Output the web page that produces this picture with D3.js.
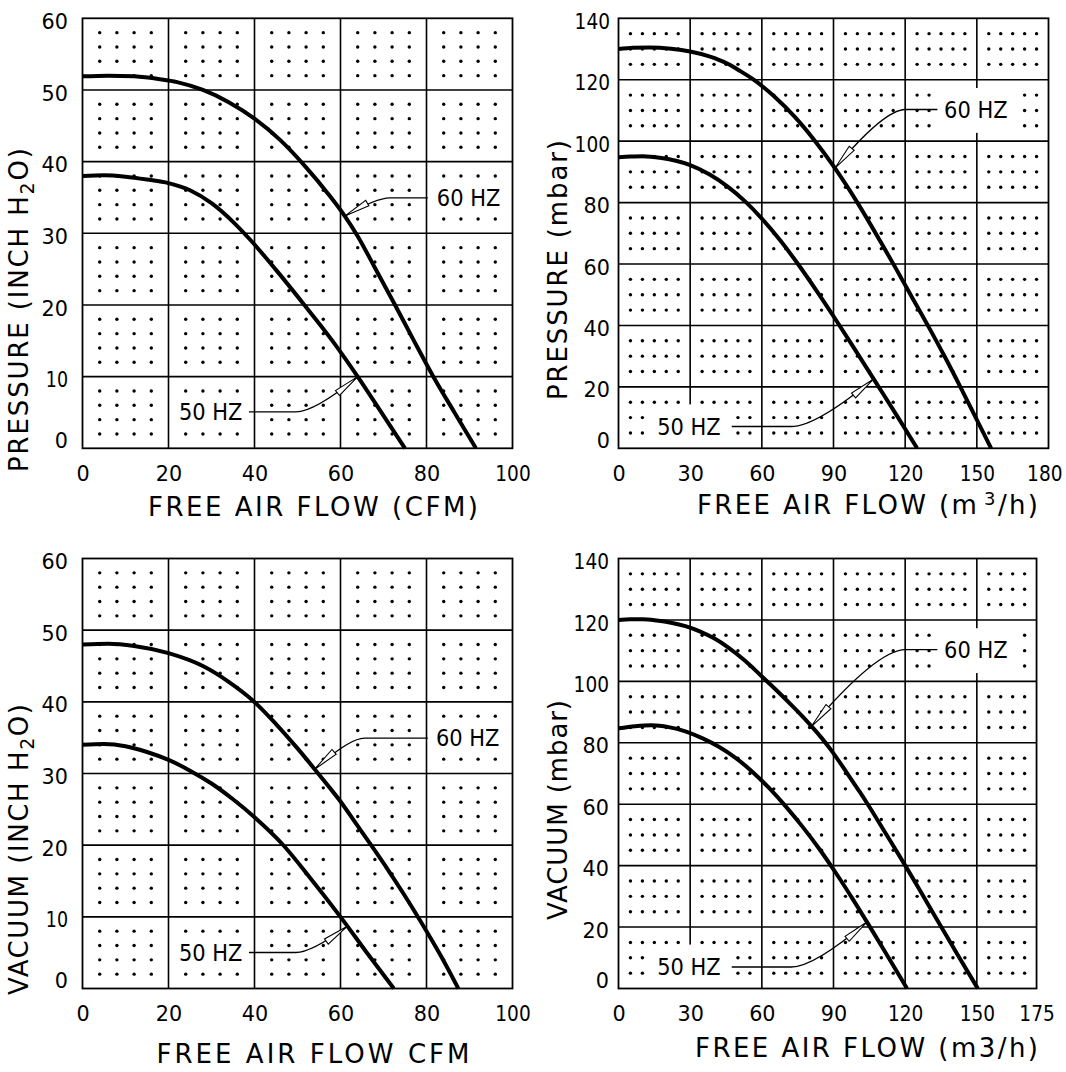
<!DOCTYPE html>
<html>
<head>
<meta charset="utf-8">
<script src="https://cdn.jsdelivr.net/npm/d3@7"></script>
<style>
  body { margin: 0; background: #fff; }
  svg { display: block; }
  text { font-family: "DejaVu Sans", sans-serif; fill: #000; }
</style>
</head>
<body>
<svg id="chart" width="1066" height="1072"></svg>
<script>
// ---- values ----
const cfmTicks = [0, 20, 40, 60, 80, 100];
const inchTicks = [0, 10, 20, 30, 40, 50, 60];
const m3hTicks = [0, 30, 60, 90, 120, 150, 180];
const m3hTicks175 = [0, 30, 60, 90, 120, 150, 175];
const mbarTicks = [0, 20, 40, 60, 80, 100, 120, 140];

// pressure, inch H2O vs CFM
const pressCfm60 = [[0,51.9],[6,52],[12,51.9],[18,51.5],[22,51.1],[28,50],[34,48.3],[40,46],[46,43],[52,39.2],[57,35.6],[61,32.4],[64,29.6],[68,25.2],[72.5,20.2],[77,15.1],[81.5,10.1],[86.5,5],[91.5,0]];
const pressCfm50 = [[0,38],[5,38.1],[10,37.9],[15,37.5],[20,37],[25,36],[30,34.2],[35,31.6],[39,29.1],[45,24.9],[51.6,20],[58,15.1],[64,10],[69.5,5],[75,0]];
// vacuum, inch H2O vs CFM
const vacCfm60 = [[0,48],[6,48.1],[12,47.8],[20,46.8],[28,45],[34,42.8],[39.6,40.2],[45,36.9],[50,33.5],[54,30.6],[57.5,28],[60,26.1],[63.5,23.1],[67,20.1],[71,16.6],[75,12.9],[79,9],[83.2,4.7],[87.4,0]];
const vacCfm50 = [[0,34],[5,34.1],[10,33.8],[15,33],[20,31.9],[25,30.4],[30,28.6],[35,26.4],[40,23.9],[46.4,20.2],[53,15.4],[60,10],[66,5.1],[72.4,0]];
// pressure, mbar vs m3/h
const pressM3h60 = [[0,130],[6,130.4],[13,130.5],[22,130.1],[30,129.2],[38,127.6],[45.7,125.2],[51,122.8],[57,119.8],[65,114.7],[73.8,107.9],[82,100.3],[90.6,91.2],[100,80],[109.6,67.4],[115.2,59.8],[122.5,49.7],[130,39.3],[136.6,29.8],[143.3,19.7],[149.8,9.6],[156,0]];
const pressM3h50 = [[0,94.8],[5,95],[10,95.1],[18,94.5],[24,93.6],[30,92.2],[38,89.2],[45.7,85.2],[53,80.4],[60,74.8],[68,67.4],[75.5,59.6],[83.5,50.6],[91.5,41.2],[100,30.9],[108.5,20.5],[116.8,10.3],[125,0]];
// vacuum, mbar vs m3/h
const vacM3h60 = [[0,120],[5,120.2],[10,120.2],[16,119.8],[22,119.1],[28,118],[34,116.3],[40,114],[46,111],[53,106.7],[60,101.6],[66,97.2],[72,92.6],[77,88.6],[81,85.2],[85,81.6],[89,77.6],[93,73.2],[97,68.6],[101,64],[104,60.4],[112,50.3],[120,40.1],[127.5,30.2],[135,20.2],[142.7,10],[150.4,0]];
const vacM3h50 = [[0,84.7],[7,85.4],[14,85.7],[21,85.1],[28,83.7],[35,81.5],[42,78.7],[49,75.1],[56,70.6],[63,65.3],[70,59.3],[77,52.7],[84,45.5],[91,37.6],[98,29.2],[105,20.4],[113,10.1],[120.8,0]];

const svg = d3.select('#chart');

// value of a series at x (linear between read points)
const valueAt = (series, xv) => {
  for (let i = 1; i < series.length; i++) {
    const a = series[i - 1], b = series[i];
    if (xv <= b[0]) return a[1] + (b[1] - a[1]) * (xv - a[0]) / (b[0] - a[0]);
  }
  return series[series.length - 1][1];
};

const panels = [
  {
    left: 82.5, top: 18.3, width: 430, height: 430, xMax: 100, yMax: 60,
    xTicks: cfmTicks, yTicks: inchTicks, dotStep: [4, 2], yPad: 14.5,
    curves: [pressCfm60, pressCfm50],
    xTitle: { x: 148, y: 516, len: 330, parts: [{ t: 'FREE AIR FLOW (CFM)' }] },
    yTitle: { x: 28, y: 310, len: 324, parts: [{ t: 'PRESSURE (INCH H' }, { t: '2', sub: true }, { t: 'O)' }] },
    notes: [
      { text: '60 HZ', anchor: 'start', series: pressCfm60, label: [82.4, 34.95], lineStart: 80.3, elbow: 71.5, tipX: 61 },
      { text: '50 HZ', anchor: 'end', series: pressCfm50, label: [37.2, 5.09], lineStart: 38.7, elbow: 49.6, tipX: 64 }
    ]
  },
  {
    left: 618.5, top: 18.3, width: 430, height: 430, xMax: 180, yMax: 140,
    xTicks: m3hTicks, yTicks: mbarTicks, dotStep: [5, 5], yPad: 8.5,
    curves: [pressM3h60, pressM3h50],
    xTitle: { x: 697, y: 514, len: 341, parts: [{ t: 'FREE AIR FLOW (m' }, { t: '3', sup: true }, { t: '/h)' }] },
    yTitle: { x: 567, y: 270, len: 260, parts: [{ t: 'PRESSURE (mbar)' }] },
    notes: [
      { text: '60 HZ', anchor: 'start', series: pressM3h60, label: [136.3, 110.3], lineStart: 133.5, elbow: 120.1, tipX: 90.6, mask: [131.9, 102.7, 167.6, 117.3] },
      { text: '50 HZ', anchor: 'end', series: pressM3h50, label: [42.8, 7.1], lineStart: 47.4, elbow: 72.3, tipX: 106.8, mask: [11.9, 0, 47.8, 14.3] }
    ]
  },
  {
    left: 82.5, top: 558.5, width: 430, height: 430, xMax: 100, yMax: 60,
    xTicks: cfmTicks, yTicks: inchTicks, dotStep: [4, 2], yPad: 14.5,
    curves: [vacCfm60, vacCfm50],
    xTitle: { x: 156.5, y: 1063, len: 313, parts: [{ t: 'FREE AIR FLOW CFM' }] },
    yTitle: { x: 28, y: 849.5, len: 291, parts: [{ t: 'VACUUM (INCH H' }, { t: '2', sub: true }, { t: 'O)' }] },
    notes: [
      { text: '60 HZ', anchor: 'start', series: vacCfm60, label: [82.2, 34.95], lineStart: 80.3, elbow: 65.6, tipX: 54 },
      { text: '50 HZ', anchor: 'end', series: vacCfm50, label: [37.2, 5.02], lineStart: 38.7, elbow: 49.6, tipX: 61.6 }
    ]
  },
  {
    left: 618.5, top: 558.5, width: 430 * 175 / 180, height: 430, xMax: 175, yMax: 140,
    xTicks: m3hTicks175, yTicks: mbarTicks, dotStep: [5, 5], yPad: 9.5,
    curves: [vacM3h60, vacM3h50],
    xTitle: { x: 695, y: 1057, len: 343, parts: [{ t: 'FREE AIR FLOW (m3/h)' }] },
    yTitle: { x: 567, y: 810, len: 220, parts: [{ t: 'VACUUM (mbar)' }] },
    notes: [
      { text: '60 HZ', anchor: 'start', series: vacM3h60, label: [136.3, 110.3], lineStart: 133.5, elbow: 120.1, tipX: 80.8, mask: [131.9, 102.7, 167.6, 117.3] },
      { text: '50 HZ', anchor: 'end', series: vacM3h50, label: [42.8, 7.0], lineStart: 47.4, elbow: 72.3, tipX: 104, mask: [11.9, 0, 47.8, 14.3] }
    ]
  }
];

const addParts = (sel, parts) => {
  let shift = 0;
  parts.forEach(p => {
    const ts = sel.append('tspan').text(p.t);
    let target = 0;
    if (p.sub) { ts.attr('font-size', 19); target = 6; }
    if (p.sup) { ts.attr('font-size', 18).attr('dx', 5); target = -9; }
    if (target !== shift) ts.attr('dy', target - shift);
    shift = target;
  });
};

// narrower digits, like the drafting font of the original
const tickWidth = s => s.split('').reduce((w, c) => w + (c === '1' ? 9 : 13.2), 0);

const drawPanel = (p) => {
  const x = d3.scaleLinear().domain([0, p.xMax]).range([p.left, p.left + p.width]);
  const y = d3.scaleLinear().domain([0, p.yMax]).range([p.top + p.height, p.top]);
  const g = svg.append('g');

  // grid lines
  g.selectAll('line.v')
    .data(p.xTicks.filter(v => v > 0 && v < p.xMax))
    .join('line')
    .attr('x1', d => x(d)).attr('x2', d => x(d))
    .attr('y1', y(0)).attr('y2', y(p.yMax))
    .attr('stroke', '#000').attr('stroke-width', 1.6);
  g.selectAll('line.h')
    .data(p.yTicks.filter(v => v > 0 && v < p.yMax))
    .join('line')
    .attr('x1', x(0)).attr('x2', x(p.xMax))
    .attr('y1', d => y(d)).attr('y2', d => y(d))
    .attr('stroke', '#000').attr('stroke-width', 1.6);

  // dot fill inside each cell
  const dotXs = d3.range(p.dotStep[0], p.xMax, p.dotStep[0]).filter(v => !p.xTicks.includes(v));
  const dotYs = d3.range(p.dotStep[1], p.yMax, p.dotStep[1]).filter(v => !p.yTicks.includes(v));
  g.append('g').selectAll('circle')
    .data(d3.cross(dotXs, dotYs))
    .join('circle')
    .attr('cx', d => x(d[0])).attr('cy', d => y(d[1]))
    .attr('r', 1.7).attr('fill', '#000');

  const maskLayer = g.append('g');

  // curves
  const line = d3.line().x(d => x(d[0])).y(d => y(d[1])).curve(d3.curveMonotoneX);
  g.selectAll('path.curve')
    .data(p.curves)
    .join('path')
    .attr('d', line)
    .attr('fill', 'none').attr('stroke', '#000').attr('stroke-width', 4);

  // callouts
  p.notes.forEach(n => {
    const tip = [x(n.tipX), y(valueAt(n.series, n.tipX))];
    const ly = y(n.label[1]);
    const ex = x(n.elbow);
    const ctrl = [ex + 0.3 * (tip[0] - ex), ly];

    if (n.mask) {
      maskLayer.append('rect')
        .attr('x', x(n.mask[0])).attr('y', y(n.mask[3]))
        .attr('width', x(n.mask[2]) - x(n.mask[0]))
        .attr('height', y(n.mask[1]) - y(n.mask[3]))
        .attr('fill', '#fff');
    }

    g.append('path')
      .attr('d', `M${x(n.lineStart)},${ly}H${ex}Q${ctrl[0]},${ctrl[1]} ${tip[0]},${tip[1]}`)
      .attr('fill', 'none').attr('stroke', '#000').attr('stroke-width', 1.3);

    // narrow open arrowhead
    const dx = tip[0] - ctrl[0], dy = tip[1] - ctrl[1];
    const len = Math.hypot(dx, dy);
    const ux = dx / len, uy = dy / len;
    const L = 26, w = 3.2;
    const bx = tip[0] - ux * L, by = tip[1] - uy * L;
    g.append('path')
      .attr('d', `M${tip[0]},${tip[1]}L${bx - uy * w},${by + ux * w}L${bx + uy * w},${by - ux * w}Z`)
      .attr('fill', '#fff').attr('stroke', '#000').attr('stroke-width', 1.1);

    const t = g.append('text')
      .attr('x', x(n.label[0])).attr('y', ly).attr('dy', '0.36em')
      .attr('text-anchor', n.anchor)
      .attr('font-size', 23)
      .attr('textLength', 63.5).attr('lengthAdjust', 'spacingAndGlyphs')
      .text(n.text);

    if (!n.mask) {
      const b = t.node().getBBox();
      maskLayer.append('rect')
        .attr('x', b.x - 1).attr('y', b.y + 2)
        .attr('width', b.width + 2).attr('height', b.height - 4)
        .attr('fill', '#fff');
    }
  });

  // frame
  g.append('rect')
    .attr('x', p.left).attr('y', p.top)
    .attr('width', p.width).attr('height', p.height)
    .attr('fill', 'none').attr('stroke', '#000').attr('stroke-width', 1.8);

  // tick labels
  const xAxis = d3.axisBottom(x).tickValues(p.xTicks).tickSize(0).tickPadding(17.5).tickFormat(d3.format('d'));
  g.append('g')
    .attr('transform', `translate(0,${y(0)})`)
    .call(xAxis)
    .call(a => a.select('.domain').remove())
    .attr('font-family', '"DejaVu Sans", sans-serif')
    .attr('font-size', 21)
    .selectAll('text')
    .attr('textLength', d => tickWidth(String(d)))
    .attr('lengthAdjust', 'spacingAndGlyphs')
    .attr('dx', d => (x(d) + tickWidth(String(d)) / 2 > 1062 ? 1062 - x(d) - tickWidth(String(d)) / 2 : 0));

  const yAxis = d3.axisLeft(y).tickValues(p.yTicks).tickSize(0).tickPadding(p.yPad).tickFormat(d3.format('d'));
  g.append('g')
    .attr('transform', `translate(${x(0)},0)`)
    .call(yAxis)
    .call(a => a.select('.domain').remove())
    .attr('font-family', '"DejaVu Sans", sans-serif')
    .attr('font-size', 21)
    .selectAll('text')
    .attr('textLength', d => tickWidth(String(d)))
    .attr('lengthAdjust', 'spacingAndGlyphs')
    .attr('dy', '0.48em')
    .attr('transform', d => d === 0 ? 'translate(0,-11)' : null);

  // axis titles
  const xt = g.append('text')
    .attr('x', p.xTitle.x).attr('y', p.xTitle.y)
    .attr('font-size', 26)
    .attr('textLength', p.xTitle.len).attr('lengthAdjust', 'spacing');
  addParts(xt, p.xTitle.parts);

  const yt = g.append('text')
    .attr('transform', `translate(${p.yTitle.x},${p.yTitle.y}) rotate(-90)`)
    .attr('text-anchor', 'middle')
    .attr('font-size', 26)
    .attr('textLength', p.yTitle.len).attr('lengthAdjust', 'spacing');
  addParts(yt, p.yTitle.parts);
};

panels.forEach(drawPanel);
</script>
</body>
</html>
